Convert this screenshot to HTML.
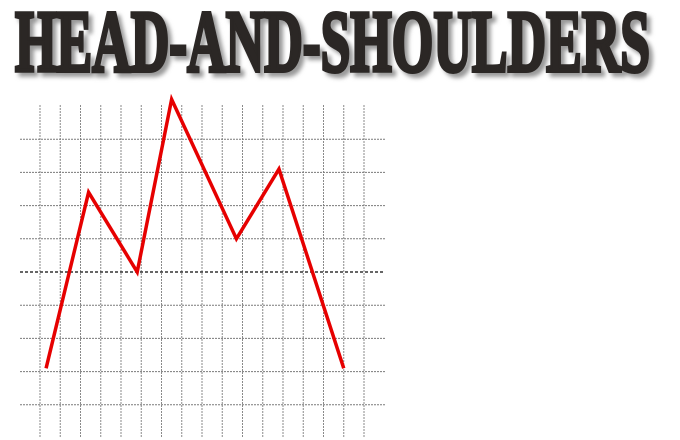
<!DOCTYPE html>
<html><head><meta charset="utf-8"><style>
html,body{margin:0;padding:0;background:#fff;width:680px;height:440px;overflow:hidden}
svg{display:block}
</style></head><body>
<svg id="chart" width="680" height="440" viewBox="0 0 680 440" xmlns="http://www.w3.org/2000/svg">
  <defs><filter id="blur"><feGaussianBlur stdDeviation="2"/></filter></defs>
  <g>
    <text x="19" y="75" textLength="635" lengthAdjust="spacingAndGlyphs" font-family="Liberation Serif, serif" font-weight="bold" font-size="88" fill="#999" stroke="#999" stroke-width="4" filter="url(#blur)">HEAD-AND-SHOULDERS</text>
    <text x="15" y="71" textLength="635" lengthAdjust="spacingAndGlyphs" font-family="Liberation Serif, serif" font-weight="bold" font-size="88" fill="#2b2725" stroke="#2b2725" stroke-width="4">HEAD-AND-SHOULDERS</text>
  </g>
  <g id="grid"></g>
  <g id="series"></g>
</svg>
<script>
const xVals = [0.3, 2.4, 4.8, 6.5, 9.7, 11.8, 15.0];
const yVals = [-2.9, 2.4, 0, 5.2, 1, 3.1, -2.9];
const hLevels = [4, 3, 2, 1, 0, -1, -2, -3, -4];
const vLines = [0,1,2,3,4,5,6,7,8,9,10,11,12,13,14,15,16];
const necklineLevel = 0;

const X = v => 40 + v * 20.25;
const Y = v => 272 - v * 33.2;
const NS = 'http://www.w3.org/2000/svg';
const grid = document.getElementById('grid');
const series = document.getElementById('series');

vLines.forEach(v => {
  const l = document.createElementNS(NS, 'line');
  
  
  l.setAttribute('x1', X(v)); l.setAttribute('x2', X(v));
  l.setAttribute('y1', 105); l.setAttribute('y2', 438);
  l.setAttribute('stroke', '#8a8a8a'); l.setAttribute('stroke-width', '1');
  l.setAttribute('stroke-dasharray', '2,1');
  grid.appendChild(l);
});
hLevels.forEach(v => {
  const l = document.createElementNS(NS, 'line');
  const neck = v === necklineLevel;
  
  
  l.setAttribute('x1', 20); l.setAttribute('x2', 385);
  l.setAttribute('y1', Y(v)); l.setAttribute('y2', Y(v));
  l.setAttribute('stroke', neck ? '#333' : '#7a7a7a');
  l.setAttribute('stroke-width', neck ? '1.5' : '1');
  l.setAttribute('stroke-dasharray', neck ? '3,2' : '2,1');
  grid.appendChild(l);
});
const pts = xVals.map((x, i) => X(x) + ',' + Y(yVals[i])).join(' ');
const pl = document.createElementNS(NS, 'polyline');


pl.setAttribute('points', pts);
pl.setAttribute('fill', 'none');
pl.setAttribute('stroke', '#e60000');
pl.setAttribute('stroke-width', '3.5');
pl.setAttribute('stroke-linejoin', 'miter');
series.appendChild(pl);
</script>
</body></html>
